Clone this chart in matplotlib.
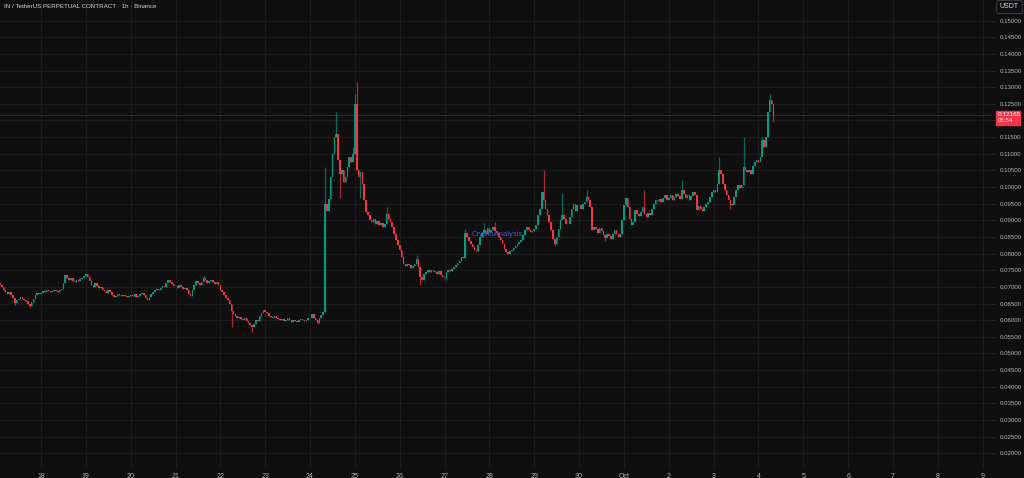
import matplotlib
matplotlib.use("Agg")
import matplotlib.pyplot as plt
import matplotlib.dates as mdates
import numpy as np
import pandas as pd

# hourly closes (1h candles, Sep 17 02:00 -> Oct 4 08:00)
first_open = 0.0712
c_sep17 = [0.0705, 0.0700, 0.0690, 0.0684, 0.0680, 0.0686, 0.0676, 0.0668, 0.0652, 0.0660, 0.0664,
           0.0669, 0.0664, 0.0661, 0.0657, 0.0650, 0.0643, 0.0655, 0.0665, 0.0677, 0.0682, 0.0680]
c_sep18 = [0.0683, 0.0688, 0.0685, 0.0690, 0.0687, 0.0684, 0.0689, 0.0692, 0.0688, 0.0686, 0.0690, 0.0694,
           0.0712, 0.0735, 0.0728, 0.0720, 0.0726, 0.0719, 0.0715, 0.0722, 0.0718, 0.0724, 0.0728, 0.0732]
c_sep19 = [0.0738, 0.0730, 0.0718, 0.0705, 0.0700, 0.0712, 0.0703, 0.0696, 0.0700, 0.0692, 0.0688, 0.0683,
           0.0690, 0.0686, 0.0676, 0.0670, 0.0673, 0.0678, 0.0675, 0.0672, 0.0676, 0.0673, 0.0670, 0.0674]
c_sep20 = [0.0676, 0.0672, 0.0678, 0.0671, 0.0674, 0.0680, 0.0683, 0.0676, 0.0668, 0.0662, 0.0670, 0.0678,
           0.0686, 0.0690, 0.0695, 0.0692, 0.0698, 0.0702, 0.0700, 0.0712, 0.0722, 0.0716, 0.0708, 0.0702]
c_sep21 = [0.0702, 0.0698, 0.0705, 0.0700, 0.0694, 0.0697, 0.0690, 0.0680, 0.0672, 0.0690, 0.0705, 0.0718,
           0.0712, 0.0706, 0.0716, 0.0726, 0.0720, 0.0712, 0.0718, 0.0722, 0.0714, 0.0710, 0.0716, 0.0706]
c_sep22 = [0.0692, 0.0684, 0.0676, 0.0668, 0.0662, 0.0650, 0.0628, 0.0618, 0.0612, 0.0606, 0.0610, 0.0604,
           0.0600, 0.0606, 0.0598, 0.0592, 0.0586, 0.0580, 0.0590, 0.0600, 0.0598, 0.0612, 0.0622, 0.0630]
c_sep23 = [0.0626, 0.0622, 0.0614, 0.0610, 0.0607, 0.0612, 0.0608, 0.0604, 0.0600, 0.0603, 0.0598, 0.0602,
           0.0606, 0.0600, 0.0596, 0.0601, 0.0598, 0.0594, 0.0600, 0.0605, 0.0600, 0.0597, 0.0602, 0.0606]
c_sep24 = [0.0606, 0.0618, 0.0608, 0.0600, 0.0592, 0.0608, 0.0616, 0.0625, 0.0950, 0.0928, 0.0965, 0.1030,
           0.1100, 0.1150, 0.1160, 0.1080, 0.1040, 0.1050, 0.1015, 0.1030, 0.1060, 0.1090, 0.1075, 0.1100]
c_sep25 = [0.1250, 0.1050, 0.1030, 0.1045, 0.1010, 0.0960, 0.0925, 0.0915, 0.0900, 0.0895, 0.0905, 0.0890,
           0.0898, 0.0885, 0.0893, 0.0880, 0.0890, 0.0918, 0.0905, 0.0895, 0.0880, 0.0860, 0.0840, 0.0825]
c_sep26 = [0.0810, 0.0790, 0.0770, 0.0762, 0.0770, 0.0765, 0.0758, 0.0762, 0.0770, 0.0785, 0.0760, 0.0730,
           0.0722, 0.0738, 0.0745, 0.0750, 0.0744, 0.0752, 0.0748, 0.0745, 0.0740, 0.0748, 0.0735, 0.0730]
c_sep27 = [0.0728, 0.0745, 0.0750, 0.0748, 0.0755, 0.0760, 0.0765, 0.0772, 0.0778, 0.0790, 0.0788, 0.0862,
           0.0850, 0.0838, 0.0830, 0.0820, 0.0812, 0.0808, 0.0825, 0.0850, 0.0862, 0.0870, 0.0858, 0.0876]
c_sep28 = [0.0865, 0.0872, 0.0880, 0.0868, 0.0862, 0.0850, 0.0840, 0.0830, 0.0815, 0.0805, 0.0800, 0.0808,
           0.0812, 0.0818, 0.0822, 0.0828, 0.0835, 0.0842, 0.0856, 0.0870, 0.0880, 0.0872, 0.0865, 0.0868]
c_sep29 = [0.0875, 0.0885, 0.0915, 0.0935, 0.0985, 0.0960, 0.0935, 0.0915, 0.0895, 0.0870, 0.0845, 0.0830,
           0.0850, 0.0875, 0.0900, 0.0915, 0.0905, 0.0890, 0.0888, 0.0910, 0.0935, 0.0950, 0.0928, 0.0945]
c_sep30 = [0.0945, 0.0935, 0.0950, 0.0955, 0.0970, 0.0960, 0.0940, 0.0870, 0.0880, 0.0875, 0.0862, 0.0878,
           0.0868, 0.0855, 0.0848, 0.0858, 0.0852, 0.0845, 0.0860, 0.0872, 0.0858, 0.0850, 0.0858, 0.0900]
c_oct01 = [0.0945, 0.0968, 0.0940, 0.0905, 0.0885, 0.0895, 0.0930, 0.0920, 0.0912, 0.0925, 0.0940, 0.0918,
           0.0910, 0.0922, 0.0915, 0.0935, 0.0950, 0.0962, 0.0958, 0.0965, 0.0955, 0.0968, 0.0975, 0.0962]
c_oct02 = [0.0968, 0.0975, 0.0962, 0.0970, 0.0980, 0.0972, 0.0965, 0.0990, 0.0978, 0.0968, 0.0975, 0.0960,
           0.0972, 0.0985, 0.0975, 0.0930, 0.0942, 0.0935, 0.0928, 0.0940, 0.0948, 0.0955, 0.0970, 0.0985]
c_oct03 = [0.0990, 0.0985, 0.1010, 0.1050, 0.1040, 0.1010, 0.0990, 0.0975, 0.0960, 0.0950, 0.0945, 0.0970,
           0.0990, 0.1005, 0.0998, 0.1005, 0.1060, 0.1052, 0.1045, 0.1050, 0.1040, 0.1062, 0.1075, 0.1080]
c_oct04 = [0.1075, 0.1090, 0.1140, 0.1120, 0.1150, 0.1225, 0.1262, 0.1250, 0.12165]

# the wicks that stand out
wick_highs = {
    "2024-09-18 13:00": 0.0740, "2024-09-19 00:00": 0.0743, "2024-09-21 15:00": 0.0736,
    "2024-09-24 08:00": 0.1060, "2024-09-24 14:00": 0.1226, "2024-09-24 23:00": 0.1120,
    "2024-09-25 00:00": 0.1280, "2024-09-25 01:00": 0.1316, "2024-09-25 17:00": 0.0940,
    "2024-09-26 09:00": 0.0795, "2024-09-27 11:00": 0.0875, "2024-09-27 21:00": 0.0892,
    "2024-09-28 03:00": 0.0896, "2024-09-29 05:00": 0.1050, "2024-09-29 15:00": 0.0982,
    "2024-09-30 04:00": 0.0990, "2024-10-01 11:00": 0.0990, "2024-10-02 07:00": 0.1020,
    "2024-10-03 03:00": 0.1090, "2024-10-03 16:00": 0.1150, "2024-10-04 02:00": 0.1150,
    "2024-10-04 06:00": 0.1280,
}
wick_lows = {
    "2024-09-17 10:00": 0.0645, "2024-09-17 18:00": 0.0638, "2024-09-22 06:00": 0.0580,
    "2024-09-22 17:00": 0.0565, "2024-09-24 04:00": 0.0588, "2024-09-24 16:00": 0.0967,
    "2024-09-25 03:00": 0.0967, "2024-09-26 11:00": 0.0705, "2024-09-27 01:00": 0.0722,
    "2024-09-29 11:00": 0.0822, "2024-09-30 14:00": 0.0838, "2024-10-03 09:00": 0.0935,
    "2024-10-04 08:00": 0.1195,
}

last_price = 0.12165
countdown = "05:54"
y_ticks = [0.02, 0.025, 0.03, 0.035, 0.04, 0.045, 0.05, 0.055, 0.06, 0.065, 0.07, 0.075, 0.08,
           0.085, 0.09, 0.095, 0.10, 0.105, 0.11, 0.115, 0.12, 0.125, 0.13, 0.135, 0.14, 0.145, 0.15]
tick_days = pd.date_range("2024-09-18", "2024-10-09", freq="D")

closes = np.array(c_sep17 + c_sep18 + c_sep19 + c_sep20 + c_sep21 + c_sep22 + c_sep23 + c_sep24 +
                  c_sep25 + c_sep26 + c_sep27 + c_sep28 + c_sep29 + c_sep30 + c_oct01 + c_oct02 +
                  c_oct03 + c_oct04)
opens = np.concatenate([[first_open], closes[:-1]])
times = pd.date_range("2024-09-17 02:00", periods=len(closes), freq="h")
highs = np.maximum(opens, closes)
lows = np.minimum(opens, closes)
for k, v in wick_highs.items():
    highs[times.get_loc(pd.Timestamp(k))] = v
for k, v in wick_lows.items():
    lows[times.get_loc(pd.Timestamp(k))] = v

plt.rcParams['font.family'] = ['Liberation Sans Narrow', 'Liberation Sans', 'DejaVu Sans']

BG = "#0f0f0f"
GRID = "#1c1c1c"
TXT = "#b2b5be"
UP = "#089981"
DN = "#f23645"

fig = plt.figure(figsize=(10.24, 4.78), dpi=100, facecolor=BG)
ax = fig.add_axes([0, 10 / 478, 992 / 1024, 468 / 478], facecolor=BG)

x = mdates.date2num(times)
up = closes >= opens
colors = np.where(up, UP, DN)
w = 0.85 / 24
ax.vlines(x, lows, highs, colors=colors, linewidth=0.9, alpha=0.65, zorder=3)
body_h = np.maximum(np.abs(closes - opens), 0.00015)
ax.bar(x, body_h, bottom=np.minimum(opens, closes), width=w, color=colors,
       linewidth=0, zorder=4)

# last price line
ax.axhline(last_price, color=DN, linewidth=0.6, alpha=0.35, zorder=2)

ax.set_ylim(0.0156, 0.1562)
ax.set_xlim(mdates.date2num(pd.Timestamp("2024-09-17 02:04")),
            mdates.date2num(pd.Timestamp("2024-10-09 05:00")))

ax.set_yticks(y_ticks)
# the 0.12 label sits under the price tag
ax.set_yticklabels(["" if abs(v - 0.12) < 1e-9 else "%.5f" % v for v in y_ticks])
ax.yaxis.tick_right()
ax.set_xticks(mdates.date2num(tick_days))
ax.set_xticklabels(["Oct" if d.day == 1 else str(d.day) for d in tick_days])
ax.tick_params(axis="y", colors=TXT, labelsize=4.4, length=2, pad=3.5, width=0.5)
ax.tick_params(axis="y", color="#3a3a3a")
ax.tick_params(axis="x", colors=TXT, labelsize=5, length=0, pad=3.5)
ax.grid(True, color=GRID, linewidth=0.8)
ax.set_axisbelow(True)
for s in ax.spines.values():
    s.set_visible(False)

# title and watermark
fig.text(4 / 1024, 1 - 7 / 478, "IN / TetherUS PERPETUAL CONTRACT · 1h · Binance", color="#d1d4dc",
         fontsize=4.5, va="center", ha="left")
ax.text(0.501, 0.5, "CryptoAnalysis", transform=ax.transAxes, color="#3f5bd8", fontsize=5.5,
        ha="center", va="center", zorder=6)

# currency box
fig.text(1009.5 / 1024, 1 - 7 / 478, "USDT", color="#d1d4dc", fontsize=5, ha="center", va="center",
         bbox=dict(boxstyle="round,pad=0.45,rounding_size=0.25", fc=BG, ec="#434651", lw=0.6))

# last price tag
tag_y = ax.transData.transform((0, last_price))[1] / 478
fig.patches.append(plt.Rectangle((996 / 1024, tag_y - 9.5 / 478), 24 / 1024, 13.5 / 478,
                                 transform=fig.transFigure, color=DN, zorder=10))
fig.text(998 / 1024, tag_y + 0.5 / 478, "%.5f" % last_price, color="white", fontsize=4.6,
         ha="left", va="center", zorder=11)
fig.text(998 / 1024, tag_y - 5.5 / 478, countdown, color="#ffd6d9", fontsize=4.4,
         ha="left", va="center", zorder=11)

fig.savefig("out.png", dpi=100, facecolor=BG)
